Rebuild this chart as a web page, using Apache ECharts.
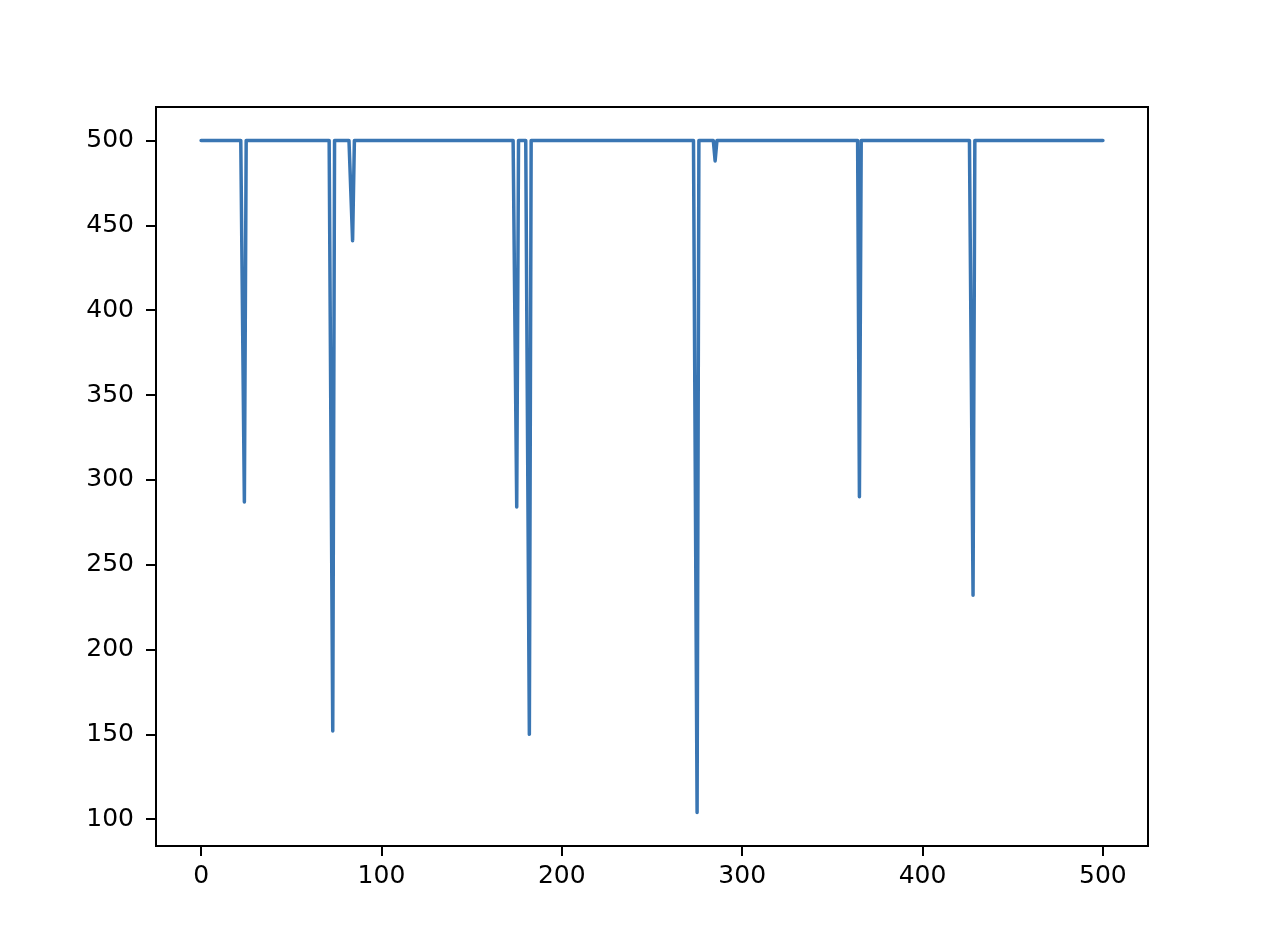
<!DOCTYPE html>
<html>
<head>
<meta charset="utf-8">
<script src="https://cdn.jsdelivr.net/npm/echarts@6/dist/echarts.min.js"></script>
<style>
  html, body { margin: 0; padding: 0; background: #fff; }
  #chart { width: 1262px; height: 943px; }
</style>
</head>
<body>
<div id="chart"></div>
<script>
  // line sits at 500 everywhere except a few sharp drops
  var xStart = 0;
  var xEnd = 500;
  var baseValue = 500;
  var spikeX = [24, 73, 84, 175, 182, 275, 285, 365, 428];
  var spikeY = [287, 152, 441, 284, 150, 104, 488, 290, 232];
  var xTicks = [0, 100, 200, 300, 400, 500];
  var yTicks = [100, 150, 200, 250, 300, 350, 400, 450, 500];

  var data = [];
  for (var x = xStart; x <= xEnd; x++) {
    var idx = spikeX.indexOf(x);
    data.push([x, idx >= 0 ? spikeY[idx] : baseValue]);
  }

  // matplotlib-like 5% margins
  var yMin = Math.min.apply(null, spikeY), yMax = baseValue;
  var yPad = (yMax - yMin) * 0.05;
  var xPad = (xEnd - xStart) * 0.05;

  var labelStyle = { color: '#000', fontSize: 25, fontFamily: 'DejaVu Sans' };
  var axisLine = { show: true, onZero: false, lineStyle: { color: '#000', width: 2 } };

  var chart = echarts.init(document.getElementById('chart'));
  chart.setOption({
    animation: false,
    grid: {
      left: 156, right: 114, top: 107, bottom: 97,
      show: true, borderColor: '#000', borderWidth: 2, backgroundColor: 'transparent'
    },
    xAxis: {
      type: 'value',
      min: xStart - xPad,
      max: xEnd + xPad,
      splitLine: { show: false },
      axisLine: axisLine,
      axisTick: { show: true, length: 10, lineStyle: { color: '#000', width: 2 }, customValues: xTicks },
      axisLabel: Object.assign({ margin: 18, customValues: xTicks }, labelStyle)
    },
    yAxis: {
      type: 'value',
      min: yMin - yPad,
      max: yMax + yPad,
      splitLine: { show: false },
      axisLine: axisLine,
      axisTick: { show: true, length: 10, lineStyle: { color: '#000', width: 2 }, customValues: yTicks },
      axisLabel: Object.assign({ margin: 22, customValues: yTicks }, labelStyle)
    },
    series: [{
      type: 'line',
      data: data,
      showSymbol: false,
      lineStyle: { color: '#3a76b3', width: 3.5, join: 'round', cap: 'round' }
    }]
  });
</script>
</body>
</html>
